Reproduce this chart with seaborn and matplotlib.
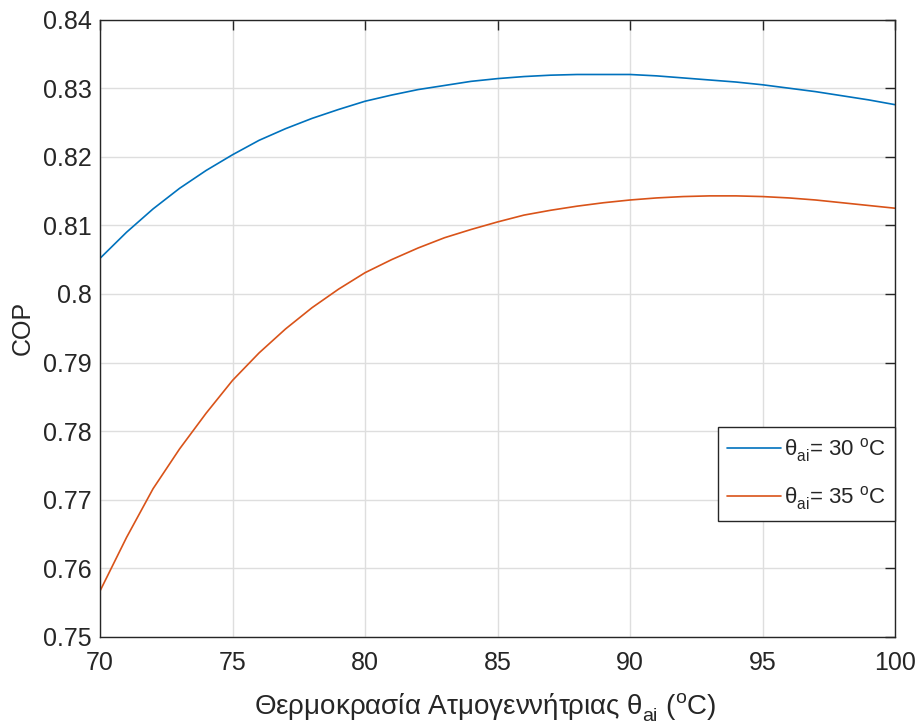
import numpy as np
import pandas as pd
import matplotlib
matplotlib.use("Agg")
import matplotlib.pyplot as plt
import seaborn as sns

# Data
theta_gen = list(range(70, 101))
cop_30 = [0.8052, 0.8090, 0.8124, 0.8154, 0.8180, 0.8203, 0.8224, 0.8241, 0.8256, 0.8269,
          0.8281, 0.8290, 0.8298, 0.8304, 0.8310, 0.8314, 0.8317, 0.8319, 0.8320, 0.8320,
          0.8320, 0.8318, 0.8315, 0.8312, 0.8309, 0.8305, 0.8300, 0.8295, 0.8289, 0.8283,
          0.8276]
cop_35 = [0.7567, 0.7645, 0.7716, 0.7774, 0.7826, 0.7874, 0.7914, 0.7949, 0.7980, 0.8007,
          0.8031, 0.8050, 0.8067, 0.8082, 0.8094, 0.8105, 0.8115, 0.8122, 0.8128, 0.8133,
          0.8137, 0.8140, 0.8142, 0.8143, 0.8143, 0.8142, 0.8140, 0.8137, 0.8133, 0.8129,
          0.8125]
series_labels = [r'$\theta_{ai}$= 30 $^{\mathrm{o}}$C', r'$\theta_{ai}$= 35 $^{\mathrm{o}}$C']
x_ticks = [70, 75, 80, 85, 90, 95, 100]
y_ticks = [0.75, 0.76, 0.77, 0.78, 0.79, 0.80, 0.81, 0.82, 0.83, 0.84]
y_tick_labels = ['0.75', '0.76', '0.77', '0.78', '0.79', '0.8', '0.81', '0.82', '0.83', '0.84']
xlabel = r'Θερμοκρασία Ατμογεννήτριας θ$_{ai}$ ($^{\mathrm{o}}$C)'
ylabel = 'COP'

df = pd.DataFrame({
    'x': theta_gen * 2,
    'cop': cop_30 + cop_35,
    'series': [series_labels[0]] * len(theta_gen) + [series_labels[1]] * len(theta_gen),
})

sns.set_theme(style='white')
plt.rcParams['font.family'] = ['Liberation Sans', 'DejaVu Sans']
plt.rcParams['mathtext.fontset'] = 'custom'
plt.rcParams['mathtext.rm'] = 'Liberation Sans'
plt.rcParams['mathtext.it'] = 'Liberation Sans'
plt.rcParams['mathtext.bf'] = 'Liberation Sans:bold'
try:
    import matplotlib._mathtext as _mt
    _mt.FontConstantsBase.sub1 = 0.5
    _mt.FontConstantsBase.sub2 = 0.6
except Exception:
    pass

fig = plt.figure(figsize=(9.18, 7.27), dpi=100)
ax = fig.add_axes([0.109, 0.124, 0.866, 0.849])

palette = {series_labels[0]: '#0072BD', series_labels[1]: '#D95319'}
sns.lineplot(data=df, x='x', y='cop', hue='series', palette=palette, ax=ax, linewidth=1.2)

ax.set_xlim(70, 100)
ax.set_ylim(0.75, 0.84)
ax.set_xticks(x_ticks)
ax.set_xticklabels([str(t) for t in x_ticks])
ax.set_yticks(y_ticks)
ax.set_yticklabels(y_tick_labels)

axcol = '#262626'
ax.grid(True, color='#dedede', linewidth=1.0)
ax.set_axisbelow(True)
for s in ax.spines.values():
    s.set_color(axcol)
    s.set_linewidth(1.0)
ax.tick_params(axis='both', which='both', direction='in', length=7, width=1.0,
               colors=axcol, labelsize=18, top=True, right=True, pad=6)
ax.tick_params(axis='x', pad=10)

ax.set_xlabel(xlabel, fontsize=20, color=axcol, labelpad=10)
ax.xaxis.set_label_coords(0.484, -0.088)
ax.set_ylabel(ylabel, fontsize=18, color=axcol, labelpad=6)

leg = ax.legend(loc='lower right', bbox_to_anchor=(1.0, 0.188), fontsize=16,
                frameon=True, fancybox=False, edgecolor=axcol, framealpha=1,
                handlelength=2.45, handletextpad=0.15, borderpad=0.4, labelspacing=0.9,
                borderaxespad=0)
leg.get_frame().set_linewidth(1.0)

fig.savefig('out.png', dpi=100)
